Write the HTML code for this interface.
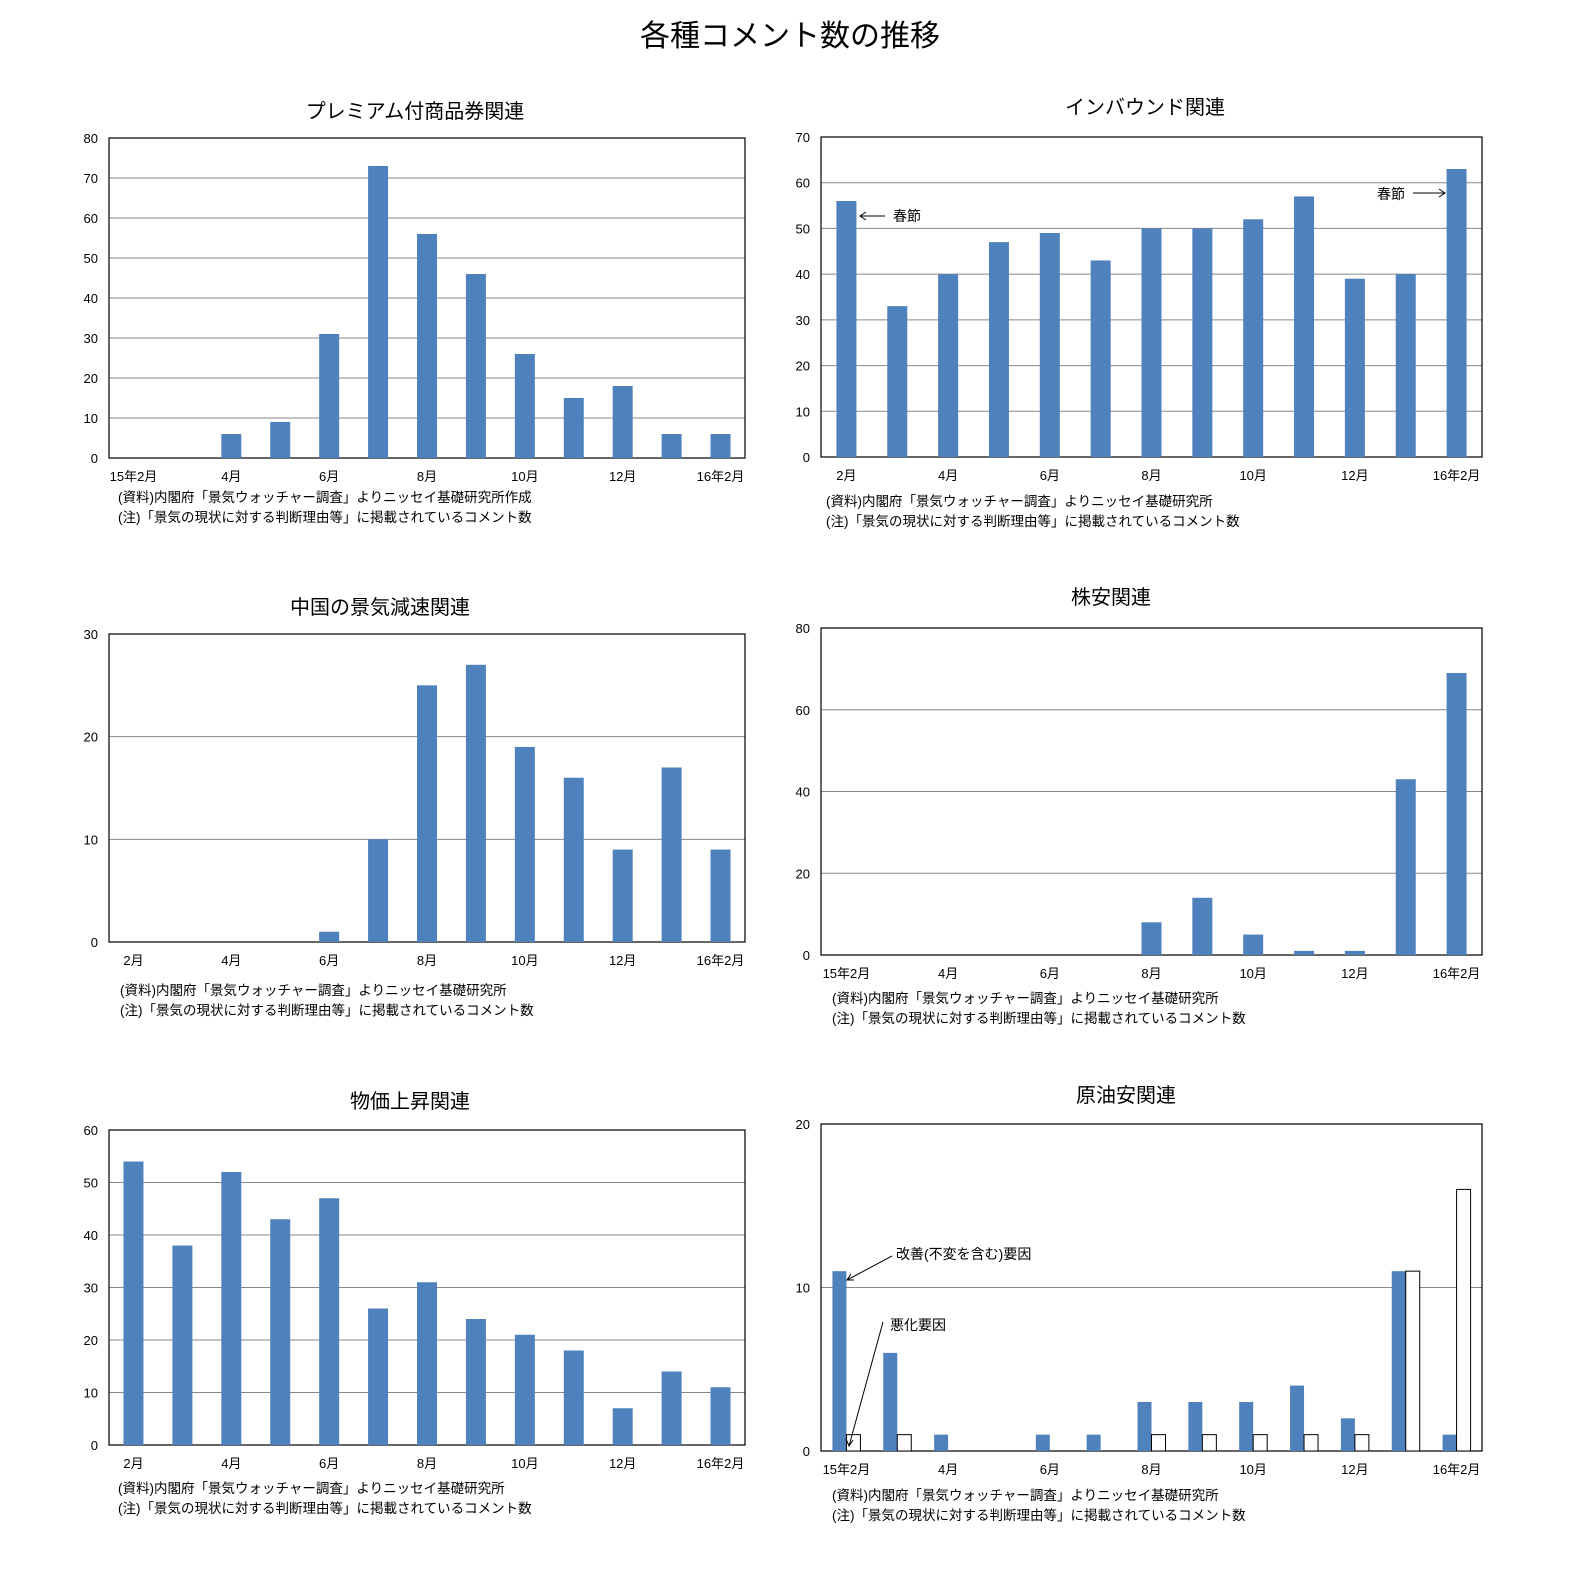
<!DOCTYPE html>
<html><head><meta charset="utf-8"><style>
body{margin:0;background:#fff;}
svg{display:block;font-family:"Liberation Sans","Noto Sans CJK JP",sans-serif;}
</style></head><body>
<svg id="s" width="1596" height="1582" viewBox="0 0 1596 1582">
<text x="790" y="46" font-size="30" text-anchor="middle" fill="#000">各種コメント数の推移</text>
</svg>
<script>
const months=['15年2月','3月','4月','5月','6月','7月','8月','9月','10月','11月','12月','16年1月','16年2月'];
const premiumVals=[0,0,6,9,31,73,56,46,26,15,18,6,6];
const inboundVals=[56,33,40,47,49,43,50,50,52,57,39,40,63];
const chinaVals=[0,0,0,0,1,10,25,27,19,16,9,17,9];
const stockVals=[0,0,0,0,0,0,8,14,5,1,1,43,69];
const priceVals=[54,38,52,43,47,26,31,24,21,18,7,14,11];
const oilImproveVals=[11,6,1,0,1,1,3,3,3,4,2,11,1];
const oilWorsenVals=[1,1,0,0,0,0,1,1,1,1,1,11,16];
const labelsA=['15年2月','','4月','','6月','','8月','','10月','','12月','','16年2月'];
const labelsB=['2月','','4月','','6月','','8月','','10月','','12月','','16年2月'];
const note1a='(資料)内閣府「景気ウォッチャー調査」よりニッセイ基礎研究所作成';
const note1b='(資料)内閣府「景気ウォッチャー調査」よりニッセイ基礎研究所';
const note2='(注)「景気の現状に対する判断理由等」に掲載されているコメント数';
const NS='http://www.w3.org/2000/svg';
const svg=document.getElementById('s');
function mk(tag,attrs,parent,text){const e=document.createElementNS(NS,tag);for(const k in attrs)e.setAttribute(k,attrs[k]);if(text!==undefined)e.textContent=text;(parent||svg).appendChild(e);return e;}
function chart(o){
  const g=mk('g',{});
  
  
  const W=o.x1-o.x0,H=o.y1-o.y0,n=months.length,slot=W/n;
  const y=v=>o.y1-v/o.max*H;
  const t=mk('text',{x:o.tx,y:o.ty,'font-size':20,'text-anchor':'middle'},g,o.title);
  
  
  for(let v=0;v<=o.max;v+=o.step){
    if(v>0&&v<o.max){const l=mk('line',{x1:o.x0,x2:o.x1,y1:y(v),y2:y(v),stroke:'#888','stroke-width':1},g);}
    const tl=mk('text',{x:o.x0-11,y:y(v)+5,'font-size':13,'text-anchor':'end'},g,String(v));
    
    
  }
  const f=mk('rect',{x:o.x0,y:o.y0,width:W,height:H,fill:'none',stroke:'#000','stroke-width':1.2},g);
  
  
  o.series.forEach((s,si)=>{
    s.vals.forEach((v,i)=>{
      if(v<=0)return;
      const cx=o.x0+slot*(i+0.5);
      let bx;
      if(o.series.length===1)bx=cx-o.bw/2;else bx=cx-o.bw+si*o.bw;
      const r=mk('rect',{x:bx,y:y(v),width:o.bw,height:y(0)-y(v),fill:s.fill,stroke:s.stroke||'none','stroke-width':1},g);
      
      
    });
  });
  o.labels.forEach((lb,i)=>{
    if(!lb)return;
    const tx=mk('text',{x:o.x0+slot*(i+0.5),y:o.y1+23,'font-size':13,'text-anchor':'middle'},g,lb);
    
    
  });
  o.notes.forEach((nt,i)=>{
    const tn=mk('text',{x:o.nx,y:o.ny+i*20,'font-size':13.5},g,nt);
    
    
  });
  return {g,y,slot};
}
const blue='#4f81bd';
chart({name:'premium-voucher-chart',title:'プレミアム付商品券関連',tx:415,ty:118,x0:109,x1:745,y0:138,y1:458,max:80,step:10,bw:20,series:[{key:'premium',vals:premiumVals,fill:blue}],labels:labelsA,notes:[note1a,note2],nx:118,ny:502});
const c2=chart({name:'inbound-chart',title:'インバウンド関連',tx:1145,ty:114,x0:821,x1:1482,y0:137,y1:457,max:70,step:10,bw:20,series:[{key:'inbound',vals:inboundVals,fill:blue}],labels:labelsB,notes:[note1b,note2],nx:826,ny:506});
chart({name:'china-slowdown-chart',title:'中国の景気減速関連',tx:380,ty:614,x0:109,x1:745,y0:634,y1:942,max:30,step:10,bw:20,series:[{key:'china',vals:chinaVals,fill:blue}],labels:labelsB,notes:[note1b,note2],nx:120,ny:995});
chart({name:'stock-decline-chart',title:'株安関連',tx:1111,ty:604,x0:821,x1:1482,y0:628,y1:955,max:80,step:20,bw:20,series:[{key:'stock',vals:stockVals,fill:blue}],labels:labelsA,notes:[note1b,note2],nx:832,ny:1003});
chart({name:'price-rise-chart',title:'物価上昇関連',tx:410,ty:1108,x0:109,x1:745,y0:1130,y1:1445,max:60,step:10,bw:20,series:[{key:'price',vals:priceVals,fill:blue}],labels:labelsB,notes:[note1b,note2],nx:118,ny:1493});
chart({name:'oil-price-chart',title:'原油安関連',tx:1126,ty:1102,x0:821,x1:1482,y0:1124,y1:1451,max:20,step:10,bw:14,series:[{key:'improve',vals:oilImproveVals,fill:blue},{key:'worsen',vals:oilWorsenVals,fill:'#fff',stroke:'#000'}],labels:labelsA,notes:[note1b,note2],nx:832,ny:1500});
// annotations
const ann=mk('g',{});


mk('text',{x:893,y:221,'font-size':14},ann,'春節');
mk('line',{x1:885,y1:216,x2:860,y2:216,stroke:'#000'},ann);
mk('path',{d:'M866,212 L860,216 L866,220',fill:'none',stroke:'#000'},ann);
mk('text',{x:1377,y:199,'font-size':14},ann,'春節');
mk('line',{x1:1413,y1:193,x2:1445,y2:193,stroke:'#000'},ann);
mk('path',{d:'M1439,189 L1445,193 L1439,197',fill:'none',stroke:'#000'},ann);
mk('text',{x:896,y:1259,'font-size':14},ann,'改善(不変を含む)要因');
mk('line',{x1:892,y1:1256,x2:847,y2:1280,stroke:'#000'},ann);
mk('path',{d:'M851,1274 L847,1280 L854,1280',fill:'none',stroke:'#000'},ann);
mk('text',{x:890,y:1330,'font-size':14},ann,'悪化要因');
mk('line',{x1:883,y1:1322,x2:849,y2:1460-14,stroke:'#000'},ann);
mk('path',{d:'M846,1439 L849,1446 L853,1440',fill:'none',stroke:'#000'},ann);
</script>
</body></html>
